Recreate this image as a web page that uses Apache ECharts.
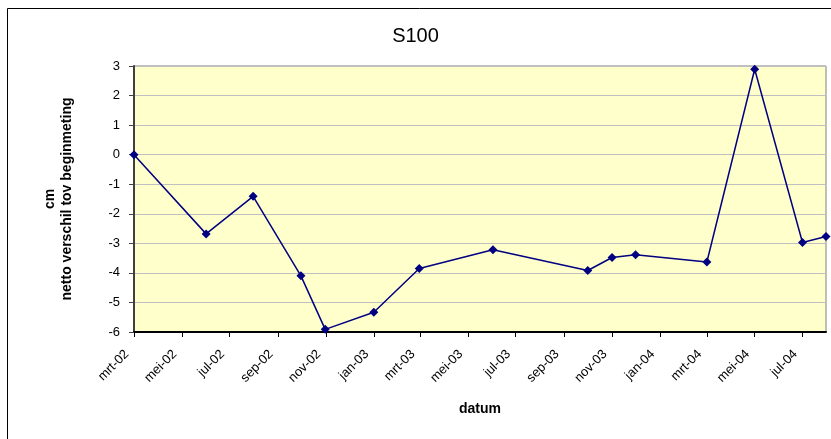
<!DOCTYPE html>
<html>
<head>
<meta charset="utf-8">
<script src="https://cdn.jsdelivr.net/npm/echarts@6/dist/echarts.min.js"></script>
<style>
  html, body { margin: 0; padding: 0; background: #fff; }
  #chart { width: 831px; height: 439px; }
</style>
</head>
<body>
<div id="chart"></div>
<script>
// meetdata S100
var dates = ['2002-03-01', '2002-06-01', '2002-07-31', '2002-09-30', '2002-10-31', '2003-01-01',
             '2003-02-28', '2003-06-02', '2003-10-01', '2003-11-01', '2003-12-01', '2004-03-01',
             '2004-05-01', '2004-07-01', '2004-07-31'];
var values = [0, -2.68, -1.41, -4.1, -5.91, -5.33, -3.85, -3.22, -3.92, -3.48, -3.39, -3.63, 2.89, -2.97, -2.77];

// as-labels (elke 2 maanden)
var tickDates = ['2002-03-01', '2002-05-01', '2002-07-01', '2002-09-01', '2002-11-01', '2003-01-01',
                 '2003-03-01', '2003-05-01', '2003-07-01', '2003-09-01', '2003-11-01', '2004-01-01',
                 '2004-03-01', '2004-05-01', '2004-07-01'];
var tickLabels = ['mrt-02', 'mei-02', 'jul-02', 'sep-02', 'nov-02', 'jan-03', 'mrt-03', 'mei-03',
                  'jul-03', 'sep-03', 'nov-03', 'jan-04', 'mrt-04', 'mei-04', 'jul-04'];
var axisStart = '2002-03-01';
var axisEnd = '2004-07-31';

var font = 'Liberation Sans, Arial, sans-serif';
function toTime(d) { return echarts.time.parse(d).getTime(); }
var tickTimes = tickDates.map(toTime);

var chart = echarts.init(document.getElementById('chart'));
chart.setOption({
  animation: false,
  backgroundColor: '#fff',
  textStyle: { fontFamily: font },
  title: {
    text: 'S100',
    left: 'center',
    top: 21,
    textStyle: { fontSize: 20, fontWeight: 'normal', color: '#000', fontFamily: font }
  },
  graphic: [{
    type: 'rect',
    shape: { x: 7.5, y: 8.5, width: 900, height: 500 },
    style: { fill: 'none', stroke: '#000', lineWidth: 1 },
    silent: true
  }],
  grid: {
    left: 134, top: 66, right: 5, bottom: 107,
    show: true,
    backgroundColor: '#FFFFCC',
    borderColor: '#808080',
    borderWidth: 1
  },
  xAxis: {
    type: 'value',
    min: toTime(axisStart),
    max: toTime(axisEnd),
    name: 'datum',
    nameLocation: 'middle',
    nameGap: 70,
    nameTextStyle: { fontSize: 14, fontWeight: 'bold', color: '#000', fontFamily: font },
    axisLine: { onZero: false, lineStyle: { color: '#000', width: 2 } },
    axisTick: { show: true, length: 5, customValues: tickTimes, lineStyle: { color: '#000' } },
    axisLabel: {
      customValues: tickTimes,
      rotate: 45,
      margin: 13,
      padding: [0, 10, 0, 0],
      fontSize: 13,
      color: '#000',
      fontFamily: font,
      formatter: function (v) {
        var i = tickTimes.indexOf(v);
        return i >= 0 ? tickLabels[i] : '';
      }
    },
    splitLine: { show: false }
  },
  yAxis: {
    type: 'value',
    min: -6,
    max: 3,
    interval: 1,
    name: 'cm\nnetto verschil tov beginmeting',
    nameLocation: 'middle',
    nameRotate: 90,
    nameGap: 58,
    nameTextStyle: { fontSize: 14, fontWeight: 'bold', color: '#000', fontFamily: font, lineHeight: 17, align: 'center' },
    axisLine: { show: true, lineStyle: { color: '#404040', width: 2 } },
    axisTick: { show: true, length: 5, lineStyle: { color: '#404040' } },
    axisLabel: { fontSize: 13, color: '#000', margin: 14, fontFamily: font },
    splitLine: { lineStyle: { color: '#C0C0C0', width: 1 } }
  },
  series: [{
    type: 'line',
    data: dates.map(function (d, i) { return [toTime(d), values[i]]; }),
    symbol: 'diamond',
    symbolSize: 9,
    clip: false,
    lineStyle: { color: '#000080', width: 1.5 },
    itemStyle: { color: '#000080' }
  }]
});
</script>
</body>
</html>
